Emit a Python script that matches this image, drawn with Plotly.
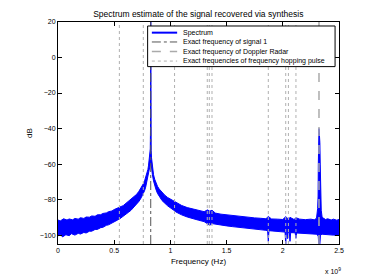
import plotly.graph_objects as go

# ---- data (frequency in units of 1e9 Hz, level in dB) ----
f_hi = [0.00,0.02,0.05,0.08,0.10,0.13,0.15,0.18,0.20,0.23,0.25,0.28,0.30,0.33,0.35,0.38,0.40,0.43,0.45,0.48,
        0.50,0.53,0.55,0.58,0.60,0.63,0.65,0.68,0.70,0.72,0.74,0.76,0.77,0.78,0.79,0.80,0.805,0.81,0.815,0.818,
        0.821,0.823,0.825,0.827,0.829,0.832,0.836,0.84,0.845,0.85,0.86,0.87,0.885,0.90,0.925,0.95,0.975,1.00,1.03,1.05,
        1.08,1.10,1.15,1.20,1.25,1.30,1.33,1.35,1.37,1.40,1.45,1.50,1.55,1.60,1.65,1.70,1.75,1.80,1.85,1.871,
        1.90,1.95,2.00,2.026,2.05,2.064,2.10,2.117,2.15,2.20,2.25,2.28,2.30,2.31,2.314,2.316,2.318,2.322,2.326,2.330,
        2.333,2.336,2.342,2.35,2.38,2.40,2.43,2.45,2.48,2.50]
db_hi = [-91.5,-92.0,-90.8,-91.5,-90.9,-91.4,-90.6,-91.0,-90.2,-90.6,-89.8,-89.9,-89.2,-89.4,-88.6,-88.5,-87.8,-87.5,-86.8,-86.4,
         -85.6,-85.0,-84.2,-83.4,-82.4,-81.0,-80.0,-78.2,-77.0,-75.3,-73.5,-71.0,-69.5,-67.5,-65.5,-63.0,-61.0,-58.5,-55.0,-52.0,
         -51.5,-40.0,25.0,-45.0,-52.5,-56.5,-59.5,-62.0,-64.5,-66.0,-68.5,-70.5,-72.5,-74.0,-76.0,-77.5,-78.8,-79.8,-81.0,-81.8,
         -82.8,-83.3,-84.5,-85.3,-86.2,-86.8,-85.8,-86.5,-86.0,-87.6,-88.2,-88.6,-89.0,-89.5,-89.7,-90.0,-90.3,-90.5,-90.8,-89.5,
         -90.9,-91.0,-91.2,-89.6,-91.0,-90.0,-91.2,-90.2,-91.0,-91.3,-91.0,-91.4,-90.5,-85.0,-78.0,-60.0,-40.5,-40.0,-44.0,-48.0,
         -60.0,-78.0,-86.0,-90.0,-91.2,-90.8,-91.5,-91.0,-91.6,-91.2]

f_lo = [0.00,0.02,0.04,0.07,0.10,0.12,0.15,0.18,0.20,0.23,0.25,0.28,0.30,0.33,0.35,0.38,0.40,0.43,0.45,0.48,
        0.50,0.53,0.55,0.58,0.60,0.63,0.65,0.68,0.70,0.72,0.74,0.76,0.77,0.78,0.79,0.80,0.81,0.815,0.82,0.825,
        0.83,0.835,0.84,0.85,0.86,0.87,0.885,0.90,0.925,0.95,0.975,1.00,1.03,1.05,1.08,1.10,1.15,1.20,1.25,1.30,
        1.33,1.35,1.37,1.40,1.45,1.50,1.55,1.60,1.65,1.70,1.75,1.80,1.85,1.865,1.871,1.877,1.90,1.95,2.00,2.02,
        2.026,2.032,2.04,2.043,2.047,2.058,2.064,2.07,2.11,2.117,2.123,2.15,2.20,2.25,2.30,2.315,2.32,2.33,2.335,2.35,
        2.40,2.45,2.50]
db_lo = [-100.5,-99.5,-101.0,-99.8,-100.3,-99.2,-100.0,-99.0,-99.4,-98.5,-98.8,-97.8,-97.8,-96.8,-96.8,-95.8,-95.6,-94.5,-94.2,-93.0,
         -92.6,-91.5,-90.8,-89.5,-88.6,-87.0,-86.0,-84.0,-82.6,-81.0,-79.0,-76.5,-75.0,-73.0,-71.0,-68.5,-64.5,-62.0,-60.5,-58.0,
         -61.0,-64.0,-66.0,-69.5,-72.0,-74.0,-76.5,-78.0,-80.5,-82.0,-83.5,-84.7,-86.0,-87.0,-88.0,-88.6,-89.8,-90.8,-91.6,-92.4,
         -93.8,-94.5,-93.5,-93.6,-94.2,-94.8,-95.2,-95.6,-96.0,-96.3,-96.8,-97.0,-97.3,-97.5,-103.5,-97.5,-97.8,-98.0,-98.2,-98.3,
         -105.0,-98.4,-98.3,-102.0,-98.4,-98.5,-103.5,-98.6,-98.7,-101.8,-98.8,-99.0,-99.2,-99.4,-99.5,-100.5,-105.0,-105.0,-100.0,-99.5,
         -99.8,-100.0,-100.2]

signal1_freq = [0.825]
doppler_freq = [2.322]
hopping_freqs = [0.546, 0.759, 1.037, 1.328, 1.346, 1.370, 1.871, 2.026, 2.050, 2.117]

x_ticks = [0, 0.5, 1, 1.5, 2, 2.5]
x_ticktext = ["0", "0.5", "1", "1.5", "2", "2.5"]
y_ticks = [20, 0, -20, -40, -60, -80, -100]
y_range = [-105, 20]
x_range = [0, 2.5]

legend_labels = ["Spectrum", "Exact frequency of signal 1",
                 "Exact frequency of Doppler Radar",
                 "Exact frequencies of frequency hopping pulse"]

FONT = "Liberation Sans, Arial, Helvetica, sans-serif"

SPEC_STYLE = dict(color="#0000ff", width=2)
S1_STYLE = dict(color="#555555", width=1, dash="dashdot")
DR_STYLE = dict(color="#aaaaaa", width=1.5, dash="dash")
HP_STYLE = dict(color="#b0b0b0", width=1, dash="dot")

fig = go.Figure()

# spectrum band (upper edge left->right, lower edge right->left)
fig.add_trace(go.Scatter(
    x=f_hi + f_lo[::-1], y=db_hi + db_lo[::-1],
    mode="lines", fill="toself", fillcolor="#0000ff",
    line=dict(color="#0000ff", width=1), hoverinfo="skip"))

for f in signal1_freq:
    fig.add_trace(go.Scatter(x=[f, f], y=y_range, mode="lines", line=S1_STYLE))
for f in doppler_freq:
    fig.add_trace(go.Scatter(x=[f, f], y=y_range, mode="lines", line=DR_STYLE))
for f in hopping_freqs:
    fig.add_trace(go.Scatter(x=[f, f], y=y_range, mode="lines", line=HP_STYLE))

# ---- manual compact legend (paper coordinates) ----
shapes = [dict(type="rect", xref="paper", yref="paper", x0=0.319, x1=0.986, y0=0.799, y1=0.982,
               line=dict(color="black", width=1), fillcolor="white", layer="above")]
annotations = []
row_y = [0.952, 0.910, 0.867, 0.824]
styles = [SPEC_STYLE, S1_STYLE, DR_STYLE, HP_STYLE]
for yy, lab, st in zip(row_y, legend_labels, styles):
    shapes.append(dict(type="line", xref="paper", yref="paper", x0=0.334, x1=0.424, y0=yy, y1=yy,
                       line=st, layer="above"))
    annotations.append(dict(text=lab, xref="paper", yref="paper", x=0.436, y=yy,
                            xanchor="left", yanchor="middle", showarrow=False,
                            font=dict(size=7, family=FONT, color="black")))

annotations.append(dict(text="x 10<sup>9</sup>", xref="paper", yref="paper",
                        x=1.015, y=-0.12, xanchor="right", yanchor="middle", showarrow=False,
                        font=dict(size=7, family=FONT, color="black")))

axis_common = dict(showline=True, linecolor="black", linewidth=1, mirror="ticks",
                   ticks="inside", ticklen=4, tickcolor="black", showgrid=False, zeroline=False,
                   automargin=False,
                   tickfont=dict(size=7, color="black", family=FONT))

fig.update_layout(
    width=385, height=275,
    margin=dict(l=58, r=46, t=22, b=31),
    paper_bgcolor="white", plot_bgcolor="white",
    showlegend=False,
    font=dict(family=FONT, color="black"),
    title=dict(text="Spectrum estimate of the signal recovered via synthesis",
               x=0.515, xanchor="center", y=0.948, yanchor="middle",
               font=dict(size=8.5, family=FONT, color="black")),
    xaxis=dict(range=x_range, tickvals=x_ticks, ticktext=x_ticktext,
               title=dict(text="Frequency (Hz)", font=dict(size=8, family=FONT), standoff=4),
               **axis_common),
    yaxis=dict(range=y_range, tickvals=y_ticks,
               title=dict(text="dB", font=dict(size=8, family=FONT), standoff=6),
               **axis_common),
    shapes=shapes,
    annotations=annotations,
)

fig.write_html("out.html", config={"displayModeBar": False},
               post_script="document.body.style.margin='0';document.body.style.overflow='hidden';")
